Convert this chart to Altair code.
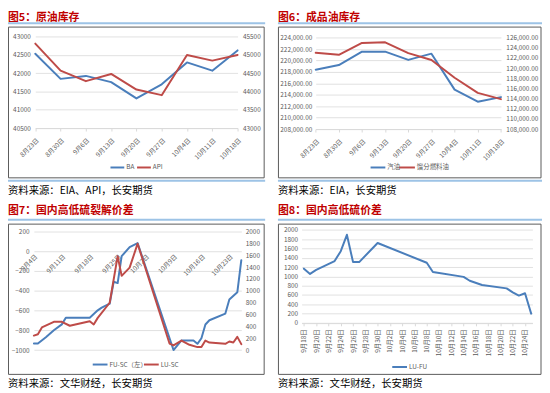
import altair as alt
import pandas as pd

# ---------------- data ----------------
weeks = ["8月23日", "8月30日", "9月6日", "9月13日", "9月20日", "9月27日", "10月4日", "10月11日", "10月18日"]
ba = [42536, 41847, 41928, 41757, 41311, 41698, 42297, 42072, 42626]
api = [45311, 44572, 44284, 44482, 44054, 43901, 45000, 44847, 45000]
gasoline = [218403, 219209, 221555, 221555, 220115, 221209, 214906, 212790, 213597]
distillate = [123024, 122636, 124965, 125094, 122960, 121600, 118107, 115130, 113900]

fu_sc_dates = ["2023-09-04", "2023-09-05", "2023-09-07", "2023-09-09", "2023-09-11", "2023-09-12",
               "2023-09-18", "2023-09-20", "2023-09-21", "2023-09-23", "2023-09-24", "2023-09-25",
               "2023-09-26", "2023-09-28", "2023-09-30", "2023-10-09", "2023-10-11", "2023-10-14",
               "2023-10-15", "2023-10-16", "2023-10-17", "2023-10-18", "2023-10-22", "2023-10-23",
               "2023-10-25", "2023-10-26"]
fu_sc = [-934, -934, -870, -800, -740, -673, -673, -598, -571, -531, -309, -322, -50, 43, 83,
         -1200, -903, -903, -937, -880, -741, -698, -631, -488, -415, -90]

lu_sc_dates = ["2023-09-04", "2023-09-05", "2023-09-06", "2023-09-09", "2023-09-11", "2023-09-13",
               "2023-09-18", "2023-09-19", "2023-09-20", "2023-09-23", "2023-09-25", "2023-09-26",
               "2023-09-28", "2023-09-30", "2023-10-08", "2023-10-09", "2023-10-11", "2023-10-13",
               "2023-10-15", "2023-10-16", "2023-10-17", "2023-10-18", "2023-10-22", "2023-10-23",
               "2023-10-24", "2023-10-25", "2023-10-26"]
lu_sc = [244, 266, 382, 476, 476, 410, 487, 432, 543, 798, 1584, 1252, 1390, 1795, 110, 78, 160,
         89, 50, 50, 160, 127, 105, 144, 127, 222, 100]

lu_fu_dates = ["2023-09-18", "2023-09-19", "2023-09-20", "2023-09-23", "2023-09-24", "2023-09-25",
               "2023-09-26", "2023-09-27", "2023-09-30", "2023-10-08", "2023-10-09", "2023-10-14",
               "2023-10-15", "2023-10-17", "2023-10-21", "2023-10-22", "2023-10-23", "2023-10-24",
               "2023-10-25"]
lu_fu = [1166, 1053, 1138, 1329, 1541, 1894, 1307, 1307, 1717, 1293, 1095, 989, 905, 813, 742,
         657, 587, 636, 198]

# ---------------- layout helpers ----------------
W, H = 542, 384


def X(rx):
    return rx - 7


def Y(ry):
    return ry - 6


FONT = "Noto Sans CJK SC"
GRID = "#D9D9D9"
LAB = "#595959"
BLUE = "#4A7EBB"
RED = "#BE4B48"
TITLE = "#C00000"
SEP = "#9DC3E6"
BOX = "#595959"

one = pd.DataFrame({"k": [0]})


def text(s, rx, ry, size, color, weight="normal", baseline="alphabetic"):
    return alt.Chart(one).mark_text(text=s, font=FONT, fontSize=size, color=color,
                                    fontWeight=weight, align="left", baseline=baseline).encode(
        x=alt.value(X(rx)), y=alt.value(Y(ry)))


def hrule(rx1, rx2, ry, color, width):
    return alt.Chart(one).mark_rule(color=color, strokeWidth=width).encode(
        x=alt.value(X(rx1)), x2=alt.value(X(rx2)), y=alt.value(Y(ry)))


def box(rx1, rx2, ry1, ry2):
    return alt.Chart(one).mark_rect(fillOpacity=0, stroke=BOX, strokeWidth=1).encode(
        x=alt.value(X(rx1)), x2=alt.value(X(rx2)), y=alt.value(Y(ry1)), y2=alt.value(Y(ry2)))


def legend_item(label, color, rx1, rx2, ry):
    return [hrule(rx1, rx2, ry, color, 2), text(label, rx2 + 2, ry, 6.5, LAB, baseline="middle")]


def yaxis(orient, axis_rx, values, fmt, grid, pad):
    offset = -X(axis_rx) if orient == "left" else X(axis_rx) - W
    return alt.Axis(orient=orient, offset=offset, values=values, format=fmt, grid=grid,
                    gridColor=GRID, gridWidth=0.8, domain=False, ticks=False, labelFont=FONT,
                    labelFontSize=6.5, labelColor=LAB, labelPadding=pad, labelOverlap=False,
                    title=None)


def xaxis(axis_ry, angle, pad, ticks=True, domain=True, values=None, fmt=None):
    kw = dict(orient="bottom", offset=Y(axis_ry) - H, labelAngle=angle, labelPadding=pad,
              grid=False, domain=domain, domainColor=GRID, ticks=ticks, tickColor=GRID,
              tickSize=3, labelFont=FONT, labelFontSize=6.5, labelColor=LAB,
              labelOverlap=False, labelFlush=False, title=None)
    if values is not None:
        kw["values"] = values
    if fmt is not None:
        kw["format"] = fmt
        kw["formatType"] = "time"
    return alt.Axis(**kw)


def line(df, xenc, yenc, color):
    return alt.Chart(df).mark_line(color=color, strokeWidth=2, strokeJoin="round",
                                   strokeCap="round").encode(x=xenc, y=yenc)


def dt(s, h=0):
    y, m, d = [int(v) for v in s.split("-")]
    return alt.DateTime(year=y, month=m, date=d, hours=h)


layers = []

# ---------------- decorations ----------------
for rx1, rx2, title in [(7, 268, "图5：原油库存"), (281, 549, "图6：成品油库存")]:
    layers.append(text(title, rx1, 16, 11, TITLE, "bold"))
    layers.append(hrule(rx1, rx2, 18.5, SEP, 2))
    layers.append(box(rx1 + 0.5, rx2 - 1, 22.5, 175.5))
    layers.append(hrule(rx1, rx2, 178.5, SEP, 2))
layers.append(text("资料来源：EIA、API，长安期货", 7, 192, 10.5, "#000000"))
layers.append(text("资料来源：EIA，长安期货", 281, 192, 10.5, "#000000"))

for rx1, rx2, title in [(7, 268, "图7：国内高低硫裂解价差"), (281, 549, "图8：国内高低硫价差")]:
    layers.append(text(title, rx1, 212.5, 11, TITLE, "bold"))
    layers.append(hrule(rx1, rx2, 218, SEP, 2))
    layers.append(box(rx1 + 0.5, rx2 - 1, 222.5, 375))
    layers.append(text("资料来源：文华财经，长安期货", rx1, 387.5, 10.5, "#000000"))

layers += legend_item("BA", BLUE, 111, 125, 165)
layers += legend_item("API", RED, 138, 152, 165)
layers += legend_item("汽油", BLUE, 375, 390, 165)
layers += legend_item("馏分燃料油", RED, 404, 420, 165)
layers += legend_item("FU-SC（左）", BLUE, 93, 108, 365)
layers += legend_item("LU-SC", RED, 145, 160, 365)
layers += legend_item("LU-FU", BLUE, 397, 412, 367.5)

# ---------------- panel 5 ----------------
df5 = pd.DataFrame({"week": weeks, "BA": ba, "API": api})
xs5 = alt.Scale(type="point", domain=weeks, range=[X(34.7), X(240)], padding=0)
ys5 = [Y(125), Y(32.3)]
layers.append(line(df5,
                   alt.X("week:O", scale=xs5, axis=xaxis(125, 315, 6)),
                   alt.Y("BA:Q", scale=alt.Scale(domain=[40500, 43000], range=ys5, nice=False, zero=False),
                         axis=yaxis("left", 34.7, list(range(40500, 43001, 500)), "d", True, 5)),
                   BLUE))
layers.append(line(df5,
                   alt.X("week:O", scale=xs5, axis=None),
                   alt.Y("API:Q", scale=alt.Scale(domain=[43000, 45500], range=ys5, nice=False, zero=False),
                         axis=yaxis("right", 240, list(range(43000, 45501, 500)), "d", False, 5)),
                   RED))

# ---------------- panel 6 ----------------
df6 = pd.DataFrame({"week": weeks, "gas": gasoline, "dist": distillate})
xs6 = alt.Scale(type="point", domain=weeks, range=[X(319.3), X(507.3)], padding=0)
ys6 = [Y(126), Y(33.3)]
layers.append(line(df6,
                   alt.X("week:O", scale=xs6, axis=xaxis(126, 315, 6)),
                   alt.Y("gas:Q", scale=alt.Scale(domain=[208000, 224000], range=ys6, nice=False, zero=False),
                         axis=yaxis("left", 319.3, list(range(208000, 224001, 2000)), ",.2f", True, 4)),
                   BLUE))
layers.append(line(df6,
                   alt.X("week:O", scale=xs6, axis=None),
                   alt.Y("dist:Q", scale=alt.Scale(domain=[108000, 126000], range=ys6, nice=False, zero=False),
                         axis=yaxis("right", 507.3, list(range(108000, 126001, 2000)), ",.2f", False, 5)),
                   RED))

# ---------------- panel 7 ----------------
df7a = pd.DataFrame({"date": [d + "T00:00:00" for d in fu_sc_dates], "v": fu_sc})
df7b = pd.DataFrame({"date": [d + "T00:00:00" for d in lu_sc_dates], "v": lu_sc})
xs7 = alt.Scale(type="time", domain=[dt("2023-09-04"), dt("2023-10-26")], range=[X(33.3), X(243.8)])
ys7 = [Y(350.3), Y(230)]
ticks7 = [dt(s) for s in ["2023-09-04", "2023-09-11", "2023-09-18", "2023-09-25", "2023-10-02",
                          "2023-10-09", "2023-10-16", "2023-10-23"]]
layers.append(line(df7a,
                   alt.X("date:T", scale=xs7,
                         axis=xaxis(250, 315, 2, ticks=False, domain=False, values=ticks7, fmt="%-m月%-d日")),
                   alt.Y("v:Q", scale=alt.Scale(domain=[-1000, 200], range=ys7, nice=False, zero=False, clamp=True),
                         axis=yaxis("left", 33.3, list(range(-1000, 201, 200)), "d", True, 5)),
                   BLUE))
layers.append(line(df7b,
                   alt.X("date:T", scale=xs7, axis=None),
                   alt.Y("v:Q", scale=alt.Scale(domain=[0, 2000], range=ys7, nice=False, zero=False, clamp=True),
                         axis=yaxis("right", 243.8, list(range(0, 2001, 200)), "d", False, 4)),
                   RED))

# ---------------- panel 8 ----------------
df8 = pd.DataFrame({"date": [d + "T00:00:00" for d in lu_fu_dates], "v": lu_fu})
xs8 = alt.Scale(type="time", domain=[dt("2023-09-17", 15), dt("2023-10-25", 5)], range=[X(305), X(539.3)])
ticks8 = [alt.DateTime(year=2023, month=9, date=d) for d in range(18, 31, 2)] + \
         [alt.DateTime(year=2023, month=10, date=d) for d in range(2, 25, 2)]
layers.append(line(df8,
                   alt.X("date:T", scale=xs8, axis=xaxis(322.7, 270, 3, values=ticks8, fmt="%-m月%-d日")),
                   alt.Y("v:Q", scale=alt.Scale(domain=[0, 2000], range=[Y(322.7), Y(228.3)], nice=False, zero=False),
                         axis=yaxis("left", 305, list(range(0, 2001, 200)), "d", True, 4)),
                   BLUE))

chart = alt.layer(*layers).resolve_scale(x="independent", y="independent").resolve_axis(
    x="independent", y="independent").properties(
    width=W, height=H, autosize=alt.AutoSizeParams(type="none"), padding=0, background="white"
).configure_view(stroke=None)

chart.save("out.html", embed_options={"renderer": "svg", "actions": False})
